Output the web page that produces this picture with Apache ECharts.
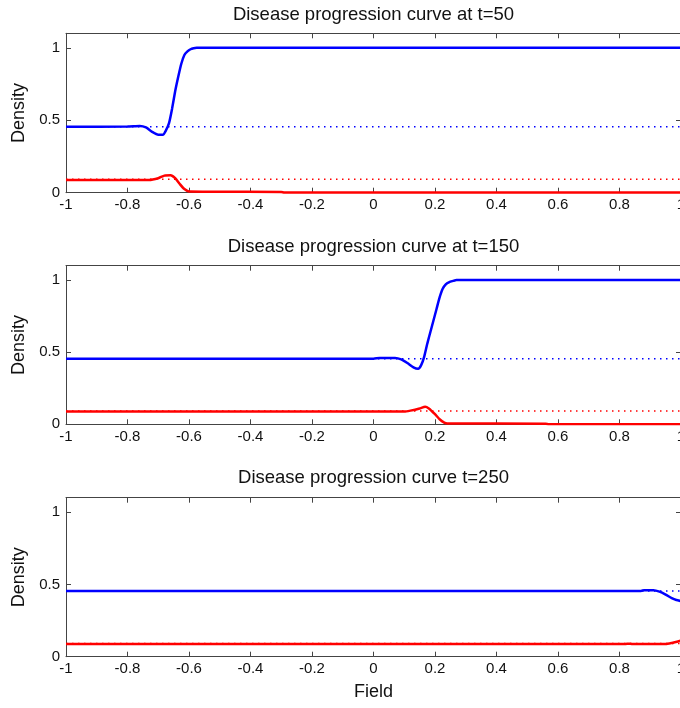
<!DOCTYPE html>
<html>
<head>
<meta charset="utf-8">
<script src="https://cdn.jsdelivr.net/npm/echarts@6/dist/echarts.min.js"></script>
<style>
  html, body { margin: 0; padding: 0; background: #fff; }
  #chart { width: 680px; height: 708px; }
</style>
</head>
<body>
<div id="chart"></div>
<script>
// titles for each panel
var titles = [
  'Disease progression curve at t=50',
  'Disease progression curve at t=150',
  'Disease progression curve t=250'
];

// equilibrium (dotted) levels
var blueRef = 0.455;
var redRef = 0.092;

// t=50
var blue1X = [-1, -0.8, -0.76, -0.74, -0.72, -0.70, -0.685, -0.675, -0.665, -0.655, -0.645, -0.635, -0.625, -0.615, -0.605, -0.595, -0.585, -0.575, 1];
var blue1Y = [0.455, 0.457, 0.46, 0.45, 0.42, 0.40, 0.40, 0.43, 0.48, 0.58, 0.70, 0.80, 0.89, 0.95, 0.975, 0.99, 0.997, 1.0, 1.0];
var red1X = [-1, -0.73, -0.70, -0.68, -0.66, -0.645, -0.63, -0.615, -0.60, -0.3, -0.29, 1];
var red1Y = [0.088, 0.088, 0.10, 0.118, 0.12, 0.10, 0.06, 0.025, 0.008, 0.005, 0.001, 0.001];

// t=150
var blue2X = [-1, 0.0, 0.02, 0.07, 0.09, 0.11, 0.13, 0.145, 0.155, 0.165, 0.175, 0.185, 0.195, 0.205, 0.215, 0.225, 0.235, 0.245, 0.26, 0.27, 1];
var blue2Y = [0.455, 0.455, 0.46, 0.46, 0.45, 0.425, 0.395, 0.385, 0.41, 0.47, 0.56, 0.64, 0.72, 0.80, 0.88, 0.94, 0.97, 0.985, 0.995, 1.0, 1.0];
var red2X = [-1, 0.10, 0.12, 0.15, 0.168, 0.18, 0.20, 0.215, 0.23, 0.24, 0.56, 0.57, 1];
var red2Y = [0.088, 0.088, 0.095, 0.11, 0.122, 0.11, 0.07, 0.035, 0.012, 0.006, 0.004, 0.001, 0.001];

// t=250
var blue3X = [-1, 0.87, 0.88, 0.91, 0.93, 0.95, 0.97, 0.985, 1];
var blue3Y = [0.455, 0.455, 0.46, 0.46, 0.45, 0.43, 0.405, 0.392, 0.385];
var red3X = [-1, 0.82, 0.83, 0.84, 0.95, 0.97, 0.99, 1];
var red3Y = [0.088, 0.088, 0.09, 0.088, 0.088, 0.095, 0.105, 0.112];

var xTicks = [-1, -0.8, -0.6, -0.4, -0.2, 0, 0.2, 0.4, 0.6, 0.8, 1];
var yTicks = [0, 0.5, 1];

function pairs(xs, ys) {
  return xs.map(function (x, i) { return [x, ys[i]]; });
}

var panels = [
  { top: 33.3, height: 159.4, blue: pairs(blue1X, blue1Y), red: pairs(red1X, red1Y), titleTop: 5 },
  { top: 265.7, height: 158.6, blue: pairs(blue2X, blue2Y), red: pairs(red2X, red2Y), titleTop: 237 },
  { top: 497.7, height: 159.0, blue: pairs(blue3X, blue3Y), red: pairs(red3X, red3Y), titleTop: 468 }
];

var font = 'Liberation Sans, Arial, Helvetica, sans-serif';
var axisCol = '#444';

var option = {
  backgroundColor: '#fff',
  animation: false,
  title: [],
  grid: [],
  xAxis: [],
  yAxis: [],
  series: []
};

panels.forEach(function (p, i) {
  option.title.push({
    text: titles[i], left: 373.5, top: p.titleTop, textAlign: 'center', padding: 0,
    textStyle: { fontFamily: font, fontSize: 18.5, fontWeight: 'normal', color: '#111' }
  });
  option.grid.push({ left: 66, top: p.top, width: 615, height: p.height, outerBoundsMode: 'none', containLabel: false });
  var last = i === panels.length - 1;
  // bottom axis with labels
  option.xAxis.push({
    type: 'value', gridIndex: i, min: -1, max: 1, interval: 0.2, position: 'bottom',
    name: last ? 'Field' : '', nameLocation: 'middle', nameGap: 26,
    nameTextStyle: { fontFamily: font, fontSize: 18, color: '#111' },
    axisLine: { show: true, onZero: false, lineStyle: { color: axisCol, width: 1 } },
    axisTick: { show: true, inside: true, length: 5, customValues: xTicks, lineStyle: { color: axisCol } },
    axisLabel: { fontFamily: font, fontSize: 15, color: '#111', margin: 5, customValues: xTicks },
    splitLine: { show: false }
  });
  // top box edge
  option.xAxis.push({
    type: 'value', gridIndex: i, min: -1, max: 1, interval: 0.2, position: 'top',
    axisLine: { show: true, onZero: false, lineStyle: { color: axisCol, width: 1 } },
    axisTick: { show: true, inside: true, length: 5, customValues: xTicks, lineStyle: { color: axisCol } },
    axisLabel: { show: false },
    splitLine: { show: false }
  });
  option.yAxis.push({
    type: 'value', gridIndex: i, min: 0, max: 1.1, position: 'left',
    name: 'Density', nameLocation: 'middle', nameGap: 34,
    nameTextStyle: { fontFamily: font, fontSize: 18, color: '#111' },
    axisLine: { show: true, onZero: false, lineStyle: { color: axisCol, width: 1 } },
    axisTick: { show: true, inside: true, length: 5, customValues: yTicks, lineStyle: { color: axisCol } },
    axisLabel: { fontFamily: font, fontSize: 15, color: '#111', margin: 6, customValues: yTicks },
    splitLine: { show: false }
  });
  option.yAxis.push({
    type: 'value', gridIndex: i, min: 0, max: 1.1, position: 'right',
    axisLine: { show: true, onZero: false, lineStyle: { color: axisCol, width: 1 } },
    axisTick: { show: true, inside: true, length: 5, customValues: yTicks, lineStyle: { color: axisCol } },
    axisLabel: { show: false },
    splitLine: { show: false }
  });

  var xi = i * 2, yi = i * 2;
  option.series.push(
    { type: 'line', xAxisIndex: xi, yAxisIndex: yi, symbol: 'none', data: [[-1, blueRef], [1, blueRef]],
      lineStyle: { color: '#0000ff', width: 1.5, type: [1.5, 4.5] }, z: 2 },
    { type: 'line', xAxisIndex: xi, yAxisIndex: yi, symbol: 'none', data: [[-1, redRef], [1, redRef]],
      lineStyle: { color: '#ff0000', width: 1.5, type: [1.5, 4.5] }, z: 2 },
    { type: 'line', xAxisIndex: xi, yAxisIndex: yi, symbol: 'none', data: p.blue, smooth: 0.2,
      lineStyle: { color: '#0000ff', width: 2.5 }, z: 3 },
    { type: 'line', xAxisIndex: xi, yAxisIndex: yi, symbol: 'none', data: p.red, smooth: 0.2,
      lineStyle: { color: '#ff0000', width: 2.5 }, z: 3 }
  );
});

var chart = echarts.init(document.getElementById('chart'));
chart.setOption(option);
</script>
</body>
</html>
